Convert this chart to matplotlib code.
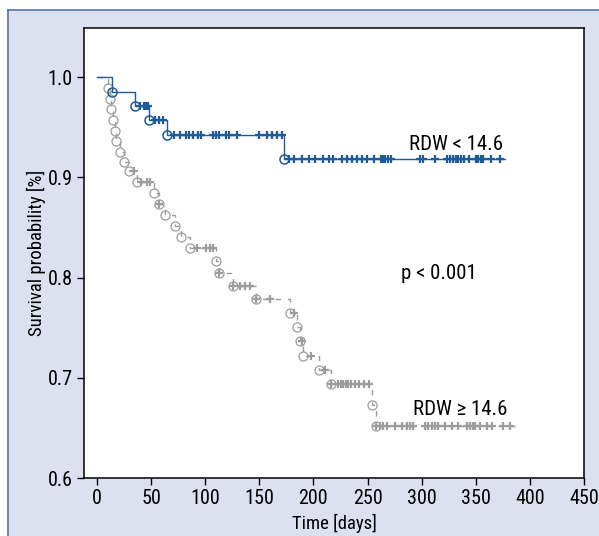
import matplotlib
matplotlib.use("Agg")
import matplotlib.pyplot as plt
from matplotlib.lines import Line2D
import numpy as np

# ---- data ----
low_event_t = [14, 35, 48, 65, 173]
low_event_s = [0.985, 0.971, 0.957, 0.942, 0.918]
low_end_t = 377
low_cens_t = [40, 43, 45, 47,
              54, 57, 61,
              71, 77, 82, 85, 89, 93, 96, 107, 110, 113, 119, 122, 129, 150, 157, 162, 166, 171,
              177, 181.6, 189, 196, 201, 209, 214, 218.5, 226, 231, 235.5, 240, 245, 249.5, 255.5,
              262, 264, 266.5, 268.5, 271.5, 298.5, 301.5, 312, 323, 326, 329, 331.5, 333.5, 336.5,
              339.5, 344, 350, 352.5, 354.5, 357, 364, 372]

high_event_t = [10, 12, 13, 15, 16.5, 18, 21, 25, 30, 37, 53, 57, 63, 72, 78, 86, 110, 113,
                126, 147, 178, 185, 188, 190, 205, 216, 254, 258]
high_event_s = [0.989, 0.978, 0.968, 0.957, 0.946, 0.936, 0.925, 0.915, 0.906, 0.895, 0.884,
                0.873, 0.862, 0.851, 0.840, 0.829, 0.817, 0.805, 0.792, 0.779, 0.765, 0.751,
                0.737, 0.722, 0.708, 0.694, 0.673, 0.652]
high_end_t = 386
high_cens_t = [34, 41, 46, 49, 57, 92, 101, 104, 107.5, 113, 126, 132, 137, 141, 147, 160, 182, 189,
               198, 211, 216, 223, 225.5, 227.5, 230, 232, 235, 238.5, 242.5, 246.7, 251.6, 258,
               261.5, 264.6, 267.7, 275.4, 281.6, 286.2, 289.3, 292.4, 303, 306, 309.5, 312.4,
               315.5, 321.6, 327.8, 334, 341.6, 344.7, 347, 349.4, 354, 360, 364.7, 375.4, 381.6]

x_ticks = [0, 50, 100, 150, 200, 250, 300, 350, 400, 450]
y_ticks = [0.6, 0.7, 0.8, 0.9, 1.0]

BLUE = '#1f5a99'
GRAY = '#9c9c9c'
BG = '#dde1ef'
FONT = ['Roboto Condensed', 'DejaVu Sans']

plt.rcParams['font.family'] = FONT


def km_steps(ev_t, ev_s, end_t):
    xs = [0]
    ys = [1.0]
    cur = 1.0
    for t, s in zip(ev_t, ev_s):
        xs += [t, t]
        ys += [cur, s]
        cur = s
    xs.append(end_t)
    ys.append(cur)
    return np.array(xs), np.array(ys)


def level_at(ev_t, ev_s, t):
    cur = 1.0
    for et, es in zip(ev_t, ev_s):
        if et <= t:
            cur = es
    return cur


fig = plt.figure(figsize=(5.99, 5.36), dpi=100)
fig.patch.set_facecolor('white')
fig.patches.append(plt.Rectangle((8 / 599, 0), 1, 1 - 10 / 536, transform=fig.transFigure,
                                 facecolor=BG, edgecolor='none', zorder=-10))
fig.lines.append(Line2D([8 / 599, 8 / 599], [0, 1 - 10 / 536], transform=fig.transFigure,
                        color='#4f74b4', lw=1.2))
fig.lines.append(Line2D([8 / 599, 1], [1 - 10 / 536, 1 - 10 / 536], transform=fig.transFigure,
                        color='#4f74b4', lw=1.2))

ax = fig.add_axes([84 / 599, 1 - 478 / 536, 500 / 599, 450 / 536])
ax.set_facecolor('white')

# high RDW (gray dashed)
hx, hy = km_steps(high_event_t, high_event_s, high_end_t)
ax.plot(hx, hy, color=GRAY, lw=1.0, ls=(0, (4, 5)), zorder=2)
ax.plot(high_event_t, high_event_s, 'o', ms=6.5, mfc='none', mec=GRAY, mew=0.9, zorder=3)
hc_y = [level_at(high_event_t, high_event_s, t) for t in high_cens_t]
ax.plot(high_cens_t, hc_y, '+', ms=6, mec=GRAY, mew=1.6, zorder=3)

# low RDW (blue solid)
lx, ly = km_steps(low_event_t, low_event_s, low_end_t)
ax.plot(lx, ly, color=BLUE, lw=1.0, zorder=4)
ax.plot(low_event_t, low_event_s, 'o', ms=6.5, mfc='none', mec=BLUE, mew=1.1, zorder=5)
lc_y = [level_at(low_event_t, low_event_s, t) for t in low_cens_t]
ax.plot(low_cens_t, lc_y, '+', ms=6, mec=BLUE, mew=1.6, zorder=5)

ax.text(332, 0.933, 'RDW < 14.6', fontsize=15, ha='center', va='center')
ax.text(316, 0.804, 'p < 0.001', fontsize=15, ha='center', va='center')
ax.text(336, 0.668, 'RDW \u2265 14.6', fontsize=15, ha='center', va='center')

ax.set_xlim(-12, 450)
ax.set_ylim(0.6, 1.049)
ax.set_xticks(x_ticks)
ax.set_yticks(y_ticks)
ax.set_yticklabels([f'{v:.1f}' for v in y_ticks])
ax.tick_params(direction='out', length=5, width=1, labelsize=14.5, pad=3)
for sp in ax.spines.values():
    sp.set_linewidth(1.1)
    sp.set_color('black')

ax.set_xlabel('Time [days]', fontsize=13.5, labelpad=4)
ax.set_ylabel('Survival probability [%]', fontsize=13.5, labelpad=1)

fig.savefig('out.png', dpi=100, facecolor=fig.get_facecolor())
